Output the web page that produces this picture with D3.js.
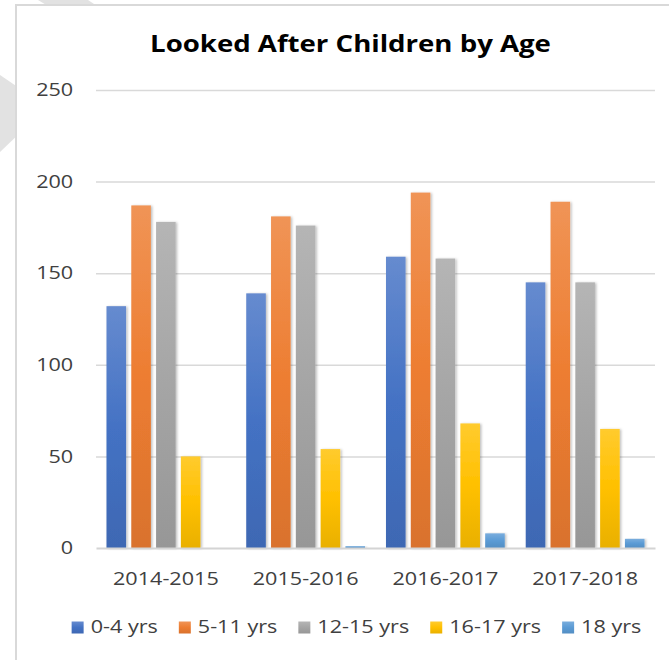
<!DOCTYPE html>
<html>
<head>
<meta charset="utf-8">
<script src="https://cdn.jsdelivr.net/npm/d3@7"></script>
<style>
  body { margin: 0; background: #fff; }
  svg { display: block; font-family: "Open Sans", sans-serif; }
  .grid line { stroke: #d9d9d9; stroke-width: 1.5; }
  .grid .domain { display: none; }
  .xaxis .domain { stroke: #d4d4d4; stroke-width: 2; }
</style>
</head>
<body>
<div id="chart"></div>
<script>
// chart data
var years = ["2014-2015", "2015-2016", "2016-2017", "2017-2018"];
var ageGroups = ["0-4 yrs", "5-11 yrs", "12-15 yrs", "16-17 yrs", "18 yrs"];
var age0to4 = [132, 139, 159, 145];
var age5to11 = [187, 181, 194, 189];
var age12to15 = [178, 176, 158, 145];
var age16to17 = [50, 54, 68, 65];
var age18 = [0, 1, 8, 5];
var yTicks = [0, 50, 100, 150, 200, 250];

var colours = ["#4472C4", "#ED7D31", "#A5A5A5", "#FFC000", "#5B9BD5"];
var seriesValues = [age0to4, age5to11, age12to15, age16to17, age18];

var W = 669, H = 660;
var margin = {top: 90, left: 96, right: 14, bottom: 112};
var width = W - margin.left - margin.right,
    height = H - margin.top - margin.bottom;
var stretchX = 1.2;   // the reference text is a bit wider than the font

var svg = d3.select("#chart").append("svg")
  .attr("width", W)
  .attr("height", H);

var defs = svg.append("defs");
colours.forEach(function(c, i) {
  var g = defs.append("linearGradient")
    .attr("id", "grad" + i)
    .attr("x1", 0).attr("y1", 0).attr("x2", 0).attr("y2", 1);
  g.append("stop").attr("offset", "0%").attr("stop-color", d3.interpolateRgb(c, "#fff")(0.18));
  g.append("stop").attr("offset", "50%").attr("stop-color", c);
  g.append("stop").attr("offset", "100%").attr("stop-color", d3.color(c).darker(0.25));
});
var shadow = defs.append("filter").attr("id", "shadow")
  .attr("x", "-20%").attr("y", "-5%").attr("width", "150%").attr("height", "115%");
shadow.append("feDropShadow")
  .attr("dx", 1.5).attr("dy", 0.5).attr("stdDeviation", 1.2)
  .attr("flood-color", "#000").attr("flood-opacity", 0.25);

// grey shapes peeking out behind the chart box
svg.append("polygon")
  .attr("points", "0,75 47,107 0,152")
  .attr("fill", "#e2e2e2");
svg.append("polygon")
  .attr("points", "38,0 88,0 97,6 48,6")
  .attr("fill", "#e2e2e2");

// chart box
svg.append("rect")
  .attr("x", 16).attr("y", 5)
  .attr("width", W).attr("height", H)
  .attr("fill", "#fff")
  .attr("stroke", "#d9d9d9")
  .attr("stroke-width", 2);

svg.append("g")
  .attr("transform", "translate(350.5,52) scale(" + stretchX + ",1)")
  .append("text")
  .attr("text-anchor", "middle")
  .attr("font-size", 23)
  .attr("font-weight", "bold")
  .attr("fill", "#000")
  .text("Looked After Children by Age");

var plot = svg.append("g")
  .attr("transform", "translate(" + margin.left + "," + margin.top + ")");

var x0 = d3.scaleBand().domain(years)
  .range([0, width])
  .paddingInner(0.15)
  .paddingOuter(0.075);
var x1 = d3.scaleBand().domain(ageGroups)
  .range([0, x0.bandwidth()])
  .paddingInner(0.21);
var y = d3.scaleLinear().domain([0, 250])
  .range([height, 0]);

// y gridlines + labels
var yAxis = plot.append("g")
  .attr("class", "grid")
  .call(d3.axisLeft(y)
    .tickValues(yTicks)
    .tickSize(-width)
    .tickPadding(19));
yAxis.selectAll(".tick line").filter(function(d) { return d === 0; }).remove();
yAxis.selectAll("text")
  .attr("font-size", 18)
  .attr("font-family", "Open Sans")
  .attr("fill", "#404040")
  .attr("transform", "scale(" + stretchX + ",1)");

// bars
var groups = plot.selectAll(".year")
  .data(years)
  .enter().append("g")
    .attr("class", "year")
    .attr("transform", function(d) { return "translate(" + x0(d) + ",0)"; });

groups.selectAll("rect")
  .data(function(d, i) {
    return ageGroups.map(function(a, j) { return {age: a, idx: j, value: seriesValues[j][i]}; });
  })
  .enter().append("rect")
    .filter(function(d) { return d.value > 0; })
    .attr("x", function(d) { return x1(d.age); })
    .attr("y", function(d) { return y(d.value); })
    .attr("width", x1.bandwidth())
    .attr("height", function(d) { return y(0) - y(d.value); })
    .attr("fill", function(d) { return "url(#grad" + d.idx + ")"; })
    .attr("filter", "url(#shadow)");

// x axis
var xAxis = plot.append("g")
  .attr("class", "xaxis")
  .attr("transform", "translate(0," + height + ")")
  .call(d3.axisBottom(x0).tickSize(0).tickPadding(24).tickSizeOuter(0));
xAxis.selectAll("text")
  .attr("font-size", 18)
  .attr("font-family", "Open Sans")
  .attr("fill", "#404040")
  .attr("transform", "scale(" + stretchX + ",1)");

// legend
var legend = svg.append("g").attr("transform", "translate(0,633)");
var items = legend.selectAll(".item")
  .data(ageGroups)
  .enter().append("g")
    .attr("class", "item");
items.append("rect")
  .attr("y", -11.5)
  .attr("width", 12).attr("height", 12)
  .attr("fill", function(d, i) { return "url(#grad" + i + ")"; });
items.append("text")
  .attr("font-size", 18)
  .attr("fill", "#404040")
  .attr("transform", "translate(19,0) scale(" + stretchX + ",1)")
  .text(function(d) { return d; });

var widths = [];
items.each(function() {
  widths.push(19 + d3.select(this).select("text").node().getComputedTextLength() * stretchX);
});
var gap = 21;
var total = d3.sum(widths) + gap * (widths.length - 1);
var cursor = 356.5 - total / 2;
items.attr("transform", function(d, i) {
  var t = "translate(" + cursor + ",0)";
  cursor += widths[i] + gap;
  return t;
});
</script>
</body>
</html>
